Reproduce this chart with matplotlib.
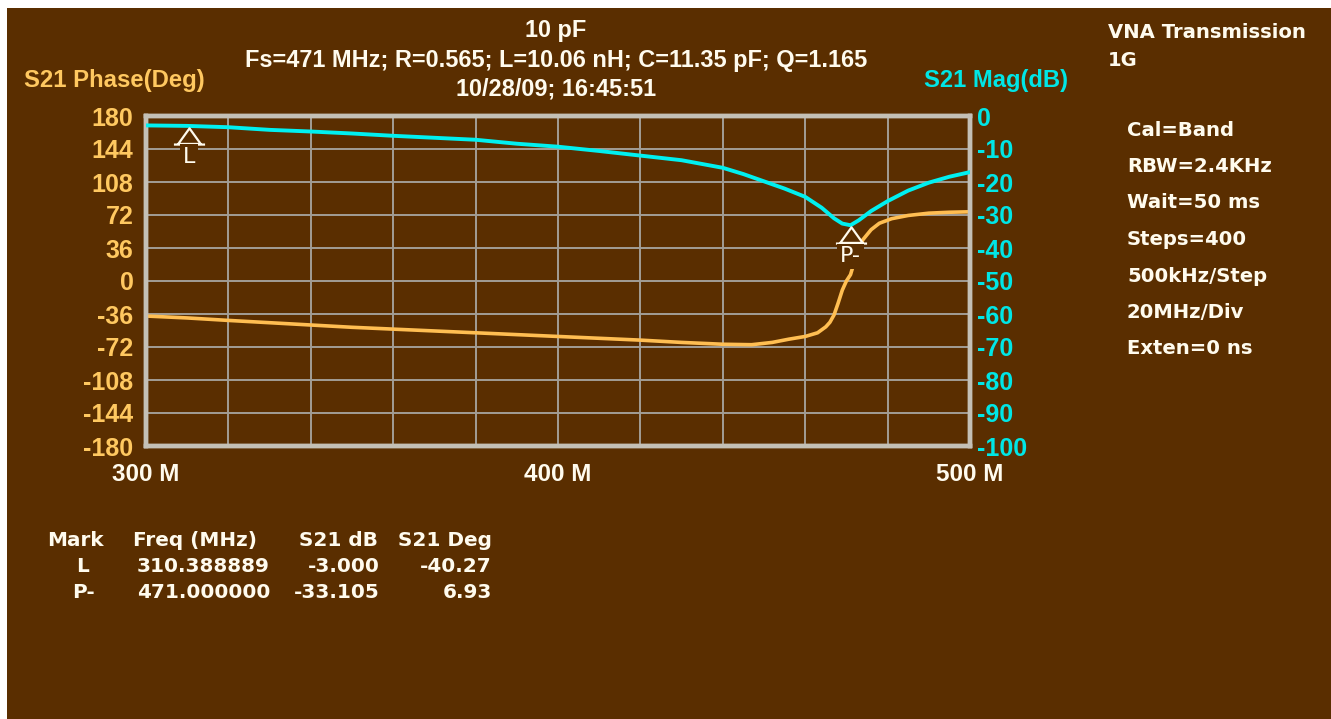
import numpy as np
import matplotlib.pyplot as plt
from matplotlib.path import Path
from matplotlib.patches import Rectangle

# S21 magnitude trace
mag_freq = [300, 310, 320, 330, 340, 350, 360, 370, 380, 390, 400, 410, 420, 430,
            440, 445, 450, 455, 460, 464, 467, 469, 471, 473, 476, 480, 485, 490, 495, 500]
mag_db = [-2.85, -3.0, -3.4, -4.2, -4.7, -5.3, -6.0, -6.6, -7.2, -8.4, -9.3, -10.6, -12.0, -13.4,
          -15.7, -17.6, -19.8, -22.0, -24.5, -27.8, -31.0, -32.6, -33.105, -31.6, -28.8, -25.8,
          -22.6, -20.2, -18.4, -17.0]

# S21 phase trace
phase_freq = [300, 310, 320, 330, 340, 350, 360, 370, 380, 390, 400, 410, 420, 430, 440,
              447, 452, 456, 460, 463, 465, 466, 467, 468, 469, 470, 471, 472, 473, 474,
              476, 478, 481, 485, 490, 495, 500]
phase_deg = [-38.2, -40.3, -43.0, -45.5, -48.0, -50.5, -52.5, -54.5, -56.5, -58.5, -60.5,
             -62.5, -64.5, -67.0, -69.0, -69.5, -67.0, -63.5, -60.5, -56.5, -50.0, -45.0,
             -37.0, -24.0, -10.0, 0.0, 6.93, 22.0, 36.0, 45.0, 56.0, 63.0, 68.0, 71.5,
             74.0, 75.0, 75.5]

# markers
mark_names = ['L', 'P-']
mark_freq = [310.388889, 471.000000]
mark_db = [-3.000, -33.105]
mark_deg = [-40.27, 6.93]

phase_ticks = [180, 144, 108, 72, 36, 0, -36, -72, -108, -144, -180]
mag_ticks = [0, -10, -20, -30, -40, -50, -60, -70, -80, -90, -100]
freq_ticks = [300, 320, 340, 360, 380, 400, 420, 440, 460, 480, 500]
freq_labels = ['300 M', '', '', '', '', '400 M', '', '', '', '', '500 M']

title_lines = ['10 pF',
               'Fs=471 MHz; R=0.565; L=10.06 nH; C=11.35 pF; Q=1.165',
               '10/28/09; 16:45:51']
setup_lines = ['Cal=Band', 'RBW=2.4KHz', 'Wait=50 ms', 'Steps=400',
               '500kHz/Step', '20MHz/Div', 'Exten=0 ns']

BG = '#5A2E00'
ORANGE = '#FFC860'
ORANGE_LINE = '#FFBE52'
CYAN = '#00E6E6'
CYAN_LINE = '#00F0F0'
WHITE = '#FFFBEE'
FRAME = '#C4C0B6'
GRID = '#A29E96'

W, H = 1331, 719
fig = plt.figure(figsize=(W / 100, H / 100), dpi=100, facecolor='white')
fig.patches.append(Rectangle((7 / W, 0), 1, 1 - 8 / H, transform=fig.transFigure,
                             facecolor=BG, edgecolor='none', zorder=-10))


def fx(px):
    return px / W


def fy(py):
    return 1 - py / H


ax = fig.add_axes([fx(146), fy(446), fx(970) - fx(146), fy(116) - fy(446)])
ax.set_facecolor('none')
ax2 = ax.twinx()

ax.plot(phase_freq, phase_deg, color=ORANGE_LINE, lw=2.6, zorder=3)
ax2.plot(mag_freq, mag_db, color=CYAN_LINE, lw=2.8, zorder=3)

ax.set_xlim(300, 500)
ax.set_ylim(-180, 180)
ax2.set_ylim(-100, 0)

ax.set_xticks(freq_ticks)
ax.set_xticklabels(freq_labels)
ax.set_yticks(phase_ticks)
ax.set_yticklabels([str(t) for t in phase_ticks])
ax2.set_yticks(mag_ticks)
ax2.set_yticklabels([str(t) for t in mag_ticks])

tick_font = dict(family='Liberation Sans', weight='bold', size=18)
for lab in ax.get_yticklabels():
    lab.set(color=ORANGE, **tick_font)
for lab in ax2.get_yticklabels():
    lab.set(color=CYAN, **tick_font)
for lab in ax.get_xticklabels():
    lab.set(color=WHITE, family='Liberation Sans', weight='bold', size=17.5)
ax.tick_params(axis='both', length=0)
ax.tick_params(axis='y', pad=9)
ax.tick_params(axis='x', pad=12)
ax2.tick_params(axis='y', length=0, pad=5)

ax.grid(True, color=GRID, lw=1.4)
ax.set_axisbelow(True)
for a in (ax, ax2):
    for sp in a.spines.values():
        sp.set_color(FRAME)
        sp.set_linewidth(3.2)

# marker symbol: outlined triangle sitting under the trace, with a base bar
tri = Path([(0, -0.06), (-0.36, -0.56), (0.36, -0.56), (0, -0.06),
            (-0.5, -0.58), (0.5, -0.58)],
           [Path.MOVETO, Path.LINETO, Path.LINETO, Path.CLOSEPOLY,
            Path.MOVETO, Path.LINETO])
for name, f, db in zip(mark_names, mark_freq, mark_db):
    ax2.plot([f], [db], marker=tri, ms=26, mfc=BG, mec=WHITE, mew=1.6, zorder=6)
    ax2.annotate(name, (f, db), xytext=(0, -22.5), textcoords='offset points',
                 ha='center', va='center', color=WHITE, fontsize=16,
                 family='DejaVu Sans', zorder=7,
                 bbox=dict(boxstyle='square,pad=0.12', fc=BG, ec='none'))

title_font = dict(family='Liberation Sans', weight='bold', size=16.9, color=WHITE)
for i, line in enumerate(title_lines):
    fig.text(fx(556), fy(31 + 29 * i), line, ha='center', va='center', **title_font)

fig.text(fx(24), fy(80), 'S21 Phase(Deg)', ha='left', va='center',
         family='Liberation Sans', weight='bold', size=17.2, color=ORANGE)
fig.text(fx(1068), fy(80), 'S21 Mag(dB)', ha='right', va='center',
         family='Liberation Sans', weight='bold', size=17.1, color=CYAN)

panel_font = dict(family='DejaVu Sans', weight='bold', size=14.1, color=WHITE)
fig.text(fx(1108), fy(32), 'VNA Transmission', ha='left', va='center', **panel_font)
fig.text(fx(1108), fy(60), '1G', ha='left', va='center', **panel_font)
for i, line in enumerate(setup_lines):
    fig.text(fx(1127), fy(130 + 36.5 * i), line, ha='left', va='center', **panel_font)

# marker readout table
table_font = dict(family='DejaVu Sans', weight='bold', size=14.4, color=WHITE)
row_y = 541
fig.text(fx(47), fy(row_y), 'Mark', ha='left', va='center', **table_font)
fig.text(fx(133), fy(row_y), 'Freq (MHz)', ha='left', va='center', **table_font)
fig.text(fx(378), fy(row_y), 'S21 dB', ha='right', va='center', **table_font)
fig.text(fx(492), fy(row_y), 'S21 Deg', ha='right', va='center', **table_font)
for i, (name, f, db, deg) in enumerate(zip(mark_names, mark_freq, mark_db, mark_deg)):
    y = row_y + 26 * (i + 1)
    fig.text(fx(83), fy(y), name, ha='center', va='center', **table_font)
    fig.text(fx(137), fy(y), f'{f:.6f}', ha='left', va='center', **table_font)
    fig.text(fx(380), fy(y), f'{db:.3f}', ha='right', va='center', **table_font)
    fig.text(fx(492), fy(y), f'{deg:.2f}', ha='right', va='center', **table_font)

fig.savefig('out.png', dpi=100, facecolor=fig.get_facecolor())
